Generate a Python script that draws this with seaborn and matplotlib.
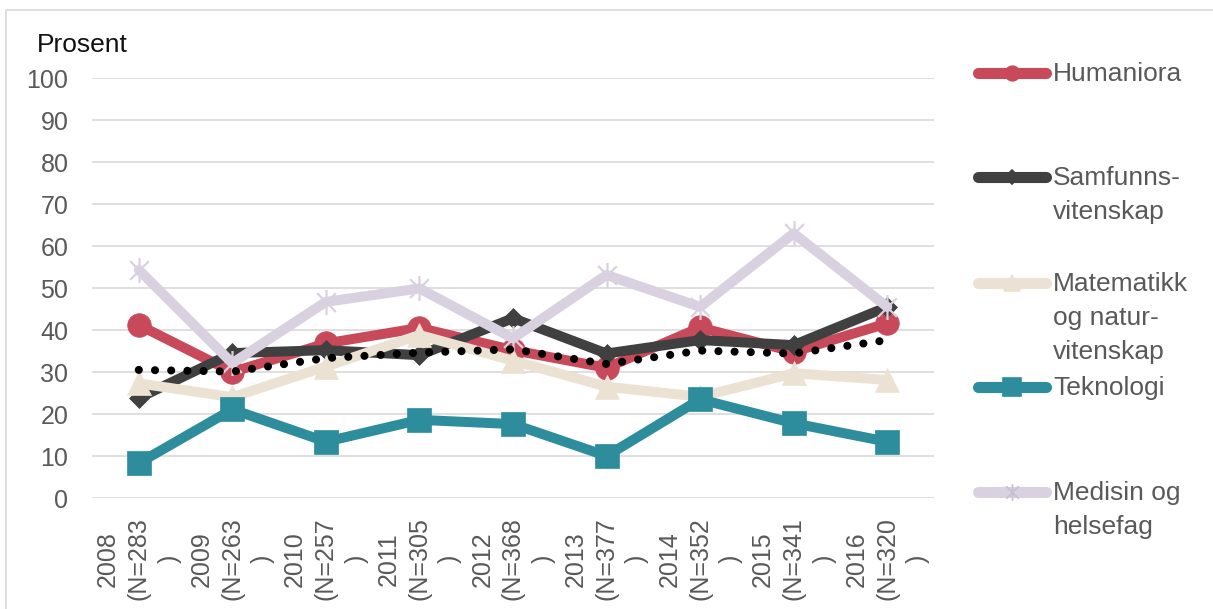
import matplotlib
matplotlib.use("Agg")
import matplotlib.pyplot as plt
from matplotlib.lines import Line2D
from matplotlib.patches import Rectangle
from matplotlib.path import Path
import seaborn as sns
import numpy as np
import pandas as pd

years = ["2008", "2009", "2010", "2011", "2012", "2013", "2014", "2015", "2016"]
n_values = [283, 263, 257, 305, 368, 377, 352, 341, 320]

humaniora = [41.2, 30.0, 36.8, 40.5, 35.2, 31.0, 40.6, 34.8, 41.6]
samfunn = [23.8, 34.5, 35.2, 34.0, 42.8, 34.4, 37.6, 36.4, 45.5]
matematikk = [27.3, 24.0, 31.3, 38.8, 32.7, 26.5, 24.1, 29.7, 28.1]
teknologi = [8.3, 21.1, 13.4, 18.6, 17.6, 10.0, 23.5, 17.8, 13.4]
medisin = [54.3, 32.1, 46.7, 49.9, 38.0, 53.1, 45.5, 63.0, 45.5]
totalt = [30.5, 30.1, 33.3, 34.6, 35.4, 31.9, 35.1, 34.4, 37.6]

labels = ["Humaniora", "Samfunns-\nvitenskap", "Matematikk\nog natur-\nvitenskap",
          "Teknologi", "Medisin og\nhelsefag"]

sns.set_theme(style="white")
plt.rcParams['font.family'] = ['Liberation Sans', 'DejaVu Sans']

star = Path([(0, -1), (0, 1), (-0.75, -0.75), (0.75, 0.75), (-0.75, 0.75), (0.75, -0.75)],
            [Path.MOVETO, Path.LINETO, Path.MOVETO, Path.LINETO, Path.MOVETO, Path.LINETO])

series = [
    (humaniora, "#c84a5a", "o", 17, 10.5),
    (samfunn, "#404040", "D", 10.5, 7),
    (matematikk, "#ece2d3", "^", 17, 11),
    (teknologi, "#2d8d9c", "s", 17, 13),
    (medisin, "#d9d1e0", star, 18, 12),
]

W, H = 1213, 609
fig = plt.figure(figsize=(W / 100, H / 100), dpi=100)
ax = fig.add_axes([92 / W, 1 - 498 / H, (934 - 92) / W, (498 - 78) / H])

x = np.arange(len(years))
for (vals, col, mk, ms, _), lab in zip(series, labels):
    df = pd.DataFrame({"x": x, "y": vals})
    filled = mk is not star
    sns.lineplot(data=df, x="x", y="y", ax=ax, color=col, linewidth=7.2,
                 marker=mk, markersize=ms,
                 markerfacecolor=col if filled else "none",
                 markeredgecolor=col, markeredgewidth=1.6 if not filled else 0.5,
                 solid_joinstyle="round", solid_capstyle="round",
                 legend=False)

df_t = pd.DataFrame({"x": x, "y": totalt})
sns.lineplot(data=df_t, x="x", y="y", ax=ax, color="black", linewidth=5.8,
             linestyle=(0, (0.01, 2.0)), dash_capstyle="round", legend=False)

ax.set_xlim(-0.5, len(years) - 0.5)
ax.set_ylim(0, 100)
ax.set_yticks(np.arange(0, 101, 10))
ax.set_xticks(x)
ax.set_xticklabels([f"{y}\n(N={n}\n)" for y, n in zip(years, n_values)])
ax.tick_params(axis="x", length=0, pad=14, labelsize=18, labelcolor="#595959")
ax.tick_params(axis="y", length=0, pad=17, labelsize=18, labelcolor="#595959")
for lbl in ax.get_xticklabels():
    lbl.set_rotation(90)
    lbl.set_ha("center")
    lbl.set_va("top")
    lbl.set_multialignment("center")
    lbl.set_linespacing(1.35)
ax.set_xlabel("")
ax.set_ylabel("")
ax.grid(axis="y", color="#d9d9d9", linewidth=1.2)
ax.grid(axis="x", visible=False)
for s in ax.spines.values():
    s.set_visible(False)
ax.set_axisbelow(True)

fig.text(37 / W, 1 - 45 / H, "Prosent", fontsize=19, color="#111111", va="center", ha="left")

# legend
leg_y = [73, 177, 283, 387, 492]
for (vals, col, mk, ms, lms), lab, yy in zip(series, labels, leg_y):
    yf = 1 - yy / H
    filled = mk is not star
    ln = Line2D([978 / W, 1046 / W], [yf, yf], transform=fig.transFigure,
                color=col, linewidth=8, solid_capstyle="round")
    fig.add_artist(ln)
    mkl = Line2D([1012 / W], [yf], transform=fig.transFigure, marker=mk, markersize=lms,
                 color=col, markerfacecolor=col if filled else "none",
                 markeredgecolor=col if filled else "#c9bfd3", markeredgewidth=1.2,
                 linestyle="none")
    fig.add_artist(mkl)
    fig.text(1053 / W, yf + 11 / H, lab, fontsize=19, color="#595959", va="top", ha="left",
             linespacing=1.52)

fig.add_artist(Rectangle((6 / W, -0.05), 1.1, 1 - 10 / H + 0.05, transform=fig.transFigure,
                         fill=False, edgecolor="#d9d9d9", linewidth=1.2))

fig.savefig("out.png", dpi=100, facecolor="white")
